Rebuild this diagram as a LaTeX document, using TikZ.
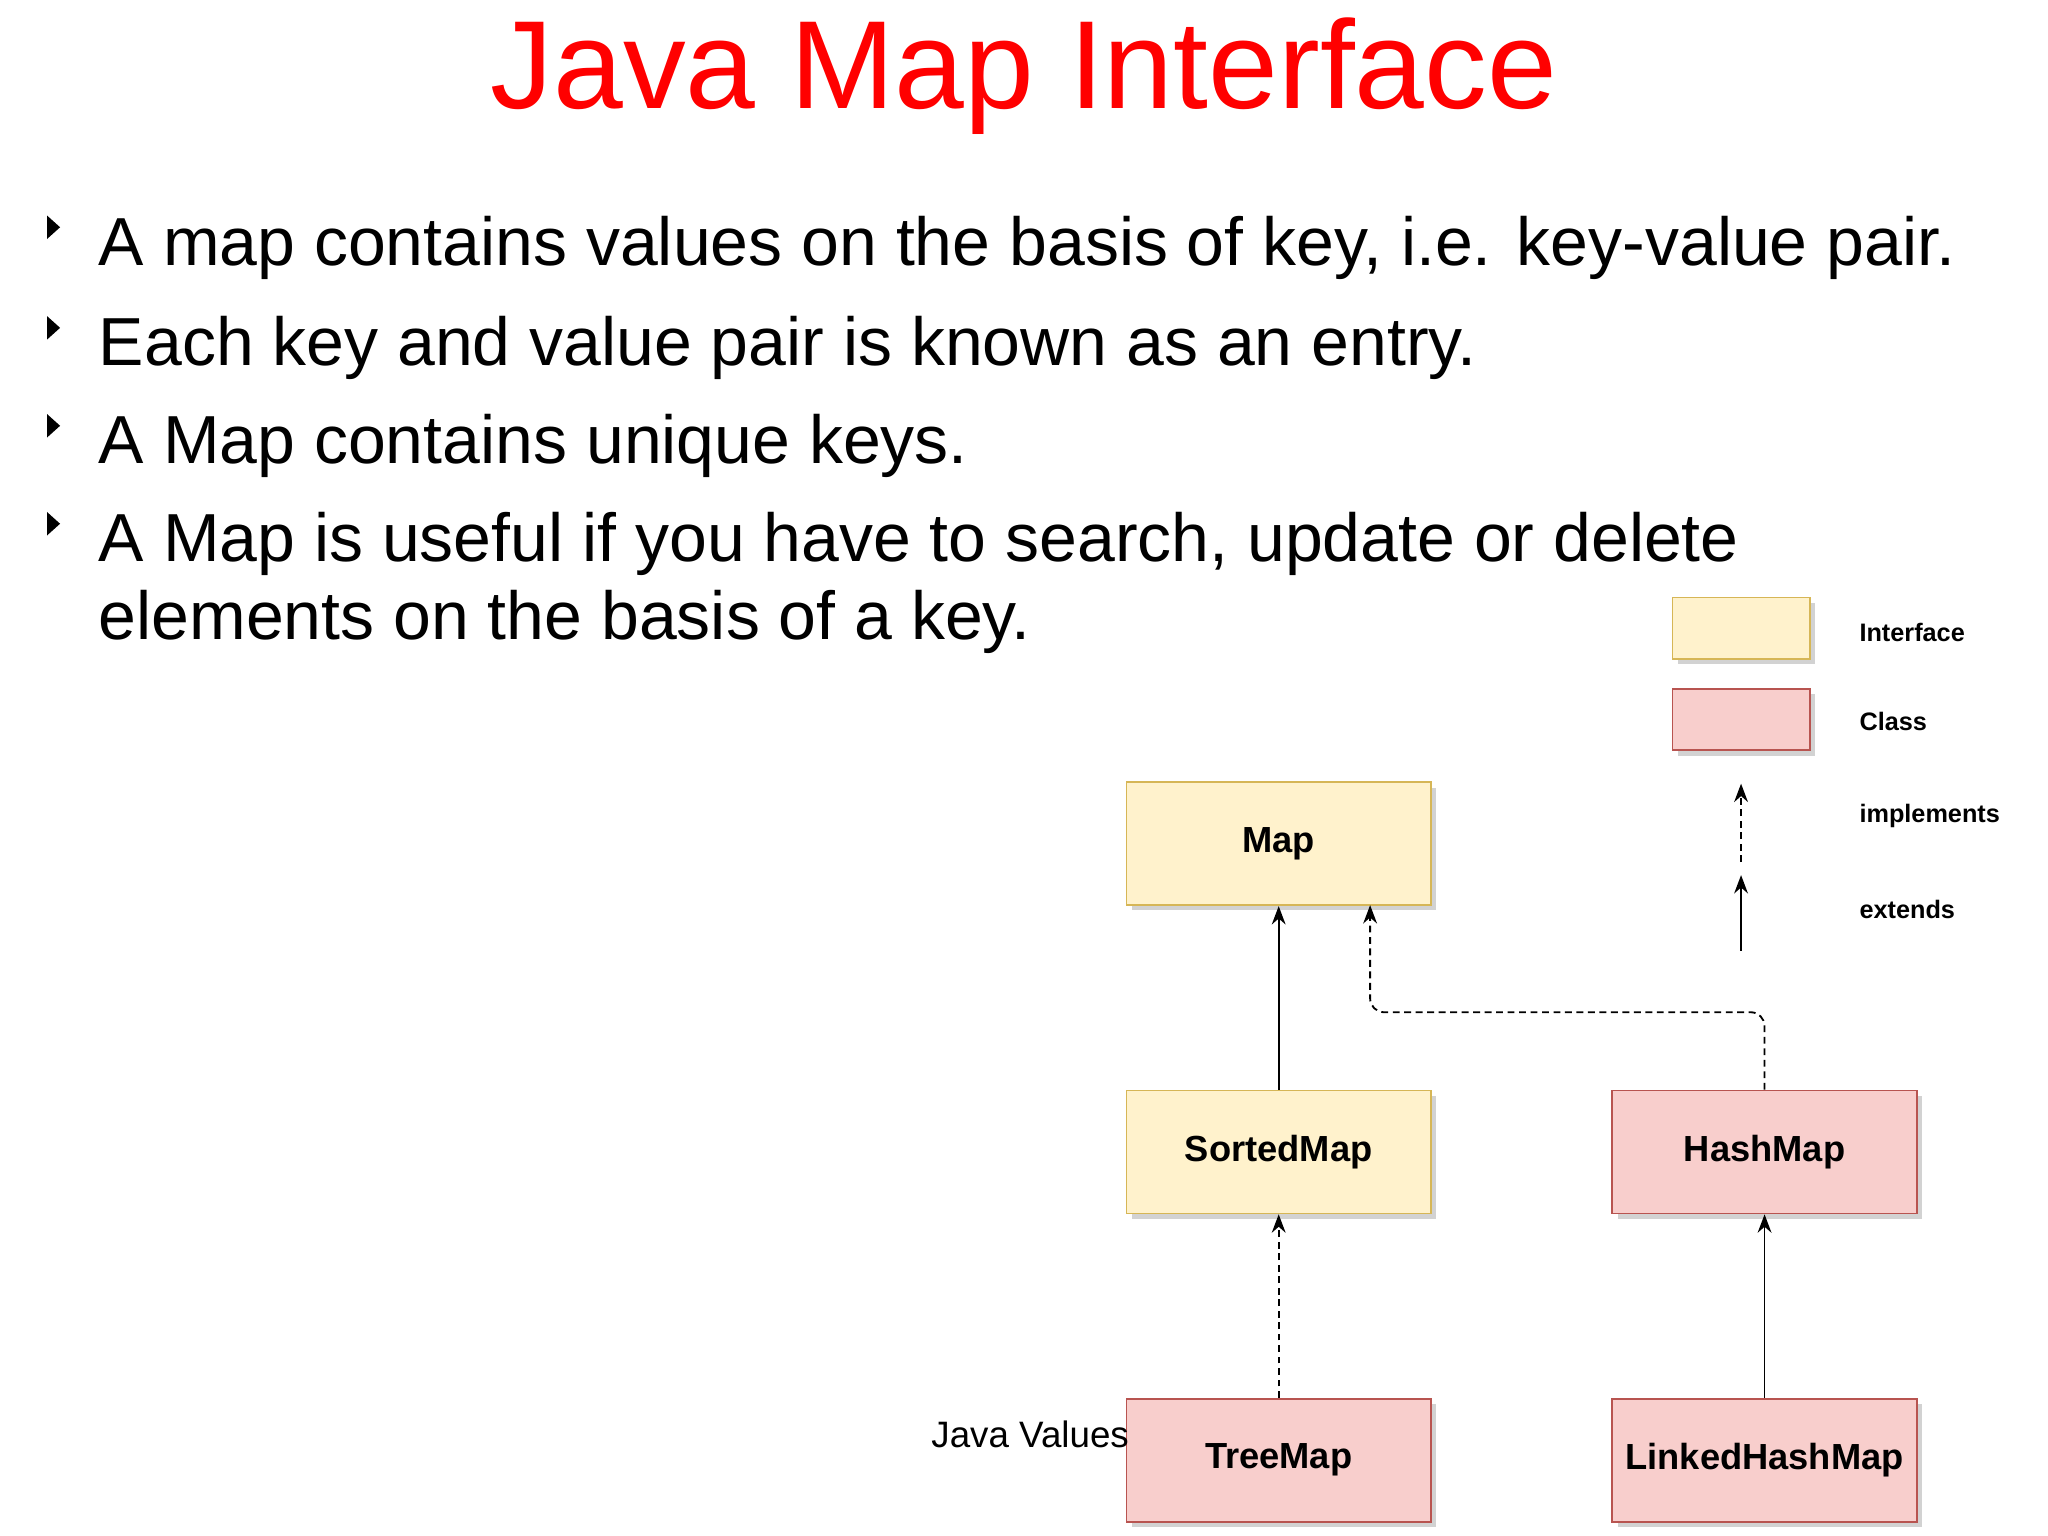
\documentclass[tikz,border=0pt]{standalone}
\usepackage{fontspec}
\setmainfont{Liberation Sans}
\usetikzlibrary{arrows.meta, shadows}
\definecolor{ifill}{HTML}{FFF2CC}
\definecolor{idraw}{HTML}{D6B656}
\definecolor{cfill}{HTML}{F8CECC}
\definecolor{cdraw}{HTML}{B85450}
\tikzset{
    box/.style={minimum width=2.33cm, minimum height=0.94cm, inner sep=1pt, font=\fontsize{7.9}{10}\selectfont\bfseries,
        drop shadow={shadow xshift=0.04cm, shadow yshift=-0.04cm, fill=black!35}},
    ibox/.style={box, fill=ifill, draw=idraw},
    cbox/.style={box, fill=cfill, draw=cdraw},
    bullet/.style={anchor=base west, inner sep=0pt, font=\fontsize{14.8}{18}\selectfont},
    legtext/.style={anchor=west, inner sep=0pt, font=\fontsize{5.5}{7}\selectfont\bfseries},
    ext/.style={-{Stealth[length=4pt, width=3pt]}, thin},
    impl/.style={ext, dash pattern=on 1.5pt off 1pt}
}
\begin{document}
\begin{tikzpicture}[x=0.01cm, y=-0.01cm]
	\useasboundingbox (0,0) rectangle (1568,1176);
	
	% titre
	\node[anchor=base, text=red, font=\fontsize{27.3}{32}\selectfont] (title) at (784,83) {Java Map Interface};
	
	% puces
	\foreach \y/\txt in {203/{A map contains values on the basis of key, i.e. key-value pair.},
	                     280/{Each key and value pair is known as an entry.},
	                     355/{A Map contains unique keys.},
	                     430/{A Map is useful if you have to search, update or delete}} {
		\fill (36,\y-38) -- (46,\y-29) -- (36,\y-20) -- cycle;
		\node[bullet] at (75,\y) {\txt};
	}
	\node[bullet] (last) at (75,490) {elements on the basis of a key.};
	
	% boites
	\node[ibox] (map) at (979,646) {Map};
	\node[ibox] (sorted) at (979,882) {SortedMap};
	\node[cbox] (hash) at (1351,882) {HashMap};
	\node[cbox] (tree) at (979,1118) {TreeMap};
	\node[cbox] (linked) at (1351,1118) {LinkedHashMap};
	\node[anchor=base east, inner sep=0pt, font=\fontsize{8}{10}\selectfont] (values) at (865,1108) {Java Values};
	
	% liaisons
	\draw[ext] (sorted.north) -- (map.south);
	\draw[impl, rounded corners=3pt] (hash.north) |- (1049,775) -- (1049,693);
	\draw[impl] (tree.north) -- (sorted.south);
	\draw[ext] (linked.north) -- (hash.south);
	
	% legende
	\node[ibox, minimum width=1.05cm, minimum height=0.47cm] (legi) at (1333,481) {};
	\node[cbox, minimum width=1.05cm, minimum height=0.47cm] (legc) at (1333,551) {};
	\coordinate (impla) at (1333,660);
	\coordinate (implb) at (1333,600);
	\coordinate (exta) at (1333,728);
	\coordinate (extb) at (1333,670);
	\draw[impl] (impla) -- (implb);
	\draw[ext] (exta) -- (extb);
	\node[legtext] (tint) at (1423,484) {Interface};
	\node[legtext] (tcls) at (1423,552) {Class};
	\node[legtext] (timp) at (1423,625) {implements};
	\node[legtext] (text) at (1423,696) {extends};
	
\end{tikzpicture}
\end{document}
